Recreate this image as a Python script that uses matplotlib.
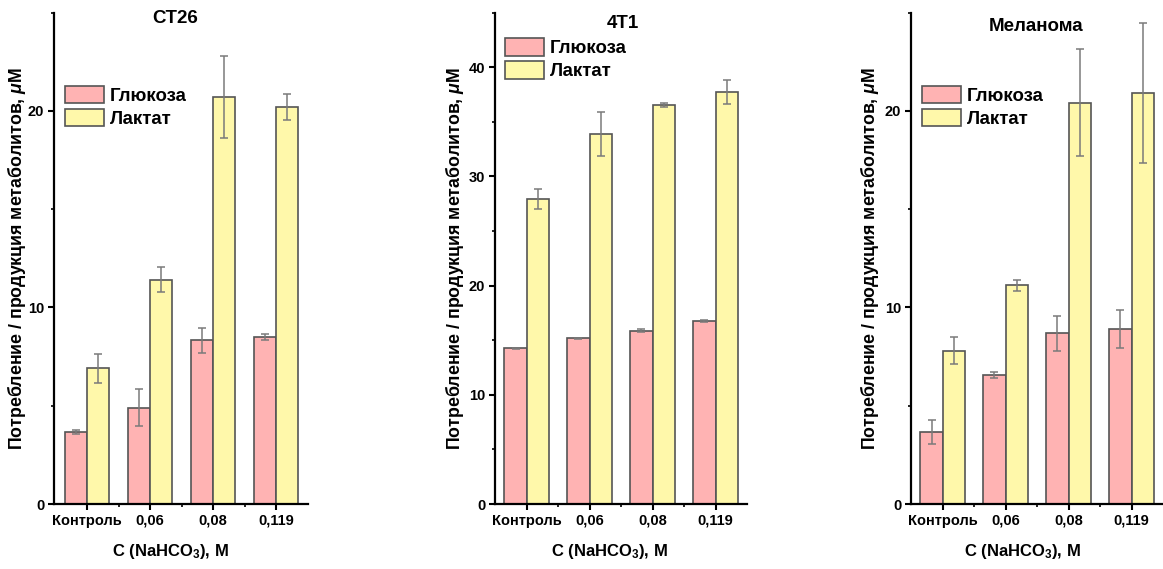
import matplotlib
matplotlib.use('Agg')
import matplotlib.pyplot as plt
import numpy as np
from matplotlib.ticker import MultipleLocator, FixedLocator

# ---- data ----
categories = ['Контроль', '0,06', '0,08', '0,119']
series_names = ['Глюкоза', 'Лактат']

titles = ['CT26', '4T1', 'Меланома']

ct26_glucose = [3.65, 4.9, 8.33, 8.5]
ct26_glucose_err = [0.1, 0.95, 0.65, 0.15]
ct26_lactate = [6.9, 11.42, 20.7, 20.2]
ct26_lactate_err = [0.75, 0.65, 2.1, 0.65]

t41_glucose = [14.25, 15.18, 15.88, 16.73]
t41_glucose_err = [0.05, 0.03, 0.15, 0.1]
t41_lactate = [27.93, 33.9, 36.55, 37.7]
t41_lactate_err = [0.95, 2.0, 0.15, 1.1]

mel_glucose = [3.66, 6.57, 8.69, 8.91]
mel_glucose_err = [0.6, 0.15, 0.9, 0.95]
mel_lactate = [7.8, 11.12, 20.43, 20.92]
mel_lactate_err = [0.7, 0.3, 2.7, 3.55]

y_max = [25, 45, 25]
y_major = [10, 10, 10]

# ---- style ----
plt.rcParams['font.family'] = ['Liberation Sans', 'DejaVu Sans']
plt.rcParams['font.weight'] = 'bold'
plt.rcParams['mathtext.fontset'] = 'custom'
plt.rcParams['mathtext.rm'] = 'Liberation Sans:bold'
plt.rcParams['mathtext.it'] = 'Liberation Sans:italic'
plt.rcParams['mathtext.bf'] = 'Liberation Sans:bold'
plt.rcParams['mathtext.default'] = 'rm'

pink = '#FFB3B3'
yellow = '#FFF8AA'
edge = '#555555'
err_color = '#7a7a7a'

fig = plt.figure(figsize=(11.63, 5.69), dpi=100)

W, H = 1163.0, 569.0
y0_px, top_px = 504.0, 12.7
axes_px = [(54, 254), (495, 252), (911, 252)]
xlims = [(0.476, 4.508), (0.496, 4.5), (0.496, 4.5)]
title_pos = [(0.476, 0.989), (0.508, 0.978), (0.496, 0.972)]
legend_pos = [(0.043, 0.851), (0.04, 0.948), (0.043, 0.851)]
ylabel_x = [-0.104, -0.115, -0.119]
xlabel_x = [0.457, 0.456, 0.444]

data = [
    (ct26_glucose, ct26_glucose_err, ct26_lactate, ct26_lactate_err),
    (t41_glucose, t41_glucose_err, t41_lactate, t41_lactate_err),
    (mel_glucose, mel_glucose_err, mel_lactate, mel_lactate_err),
]

x = np.arange(1, len(categories) + 1)
bw = 0.355
leg_fs = 13.4

for i in range(3):
    left_px, width_px = axes_px[i]
    ax = fig.add_axes([left_px / W, (H - y0_px) / H, width_px / W, (y0_px - top_px) / H])
    g, ge, l, le = data[i]
    b1 = ax.bar(x - bw / 2, g, bw, color=pink, edgecolor=edge, linewidth=1.2,
                label=series_names[0], zorder=2)
    b2 = ax.bar(x + bw / 2, l, bw, color=yellow, edgecolor=edge, linewidth=1.2,
                label=series_names[1], zorder=2)
    ax.errorbar(x - bw / 2, g, yerr=ge, fmt='none', ecolor=err_color, elinewidth=1.1,
                capsize=2.8, capthick=1.1, zorder=3)
    ax.errorbar(x + bw / 2, l, yerr=le, fmt='none', ecolor=err_color, elinewidth=1.1,
                capsize=2.8, capthick=1.1, zorder=3)

    ax.set_xlim(*xlims[i])
    ax.set_ylim(0, y_max[i])
    ax.set_xticks(x)
    ax.set_xticklabels(categories, fontsize=10.5, fontweight='bold')
    ax.xaxis.set_minor_locator(FixedLocator(x[:-1] + 0.5))
    ax.yaxis.set_major_locator(MultipleLocator(y_major[i]))
    ax.yaxis.set_minor_locator(MultipleLocator(y_major[i] / 2))
    for lab in ax.get_yticklabels():
        lab.set_fontsize(10.5)
        lab.set_fontweight('bold')
    ax.tick_params(axis='both', which='major', direction='out', length=4, width=1.5,
                   labelsize=10.5, pad=3)
    ax.tick_params(axis='both', which='minor', direction='out', length=2.5, width=1.2)
    for s in ['top', 'right']:
        ax.spines[s].set_visible(False)
    for s in ['left', 'bottom']:
        ax.spines[s].set_linewidth(1.6)

    ax.set_ylabel('Потребление / продукция метаболитов, $\\mathit{\\mu}$M',
                  fontsize=12.8, fontweight='bold')
    ax.yaxis.set_label_coords(ylabel_x[i], 0.5)
    ax.set_xlabel('C (NaHCO$_3$), M', fontsize=12, fontweight='bold')
    ax.xaxis.set_label_coords(xlabel_x[i], -0.078)

    ax.text(title_pos[i][0], title_pos[i][1], titles[i], transform=ax.transAxes,
            ha='center', va='center', fontsize=13.5, fontweight='bold')

    ax.legend(handles=[b1, b2], loc='upper left', bbox_to_anchor=legend_pos[i],
              frameon=False, prop={'size': leg_fs, 'weight': 'bold'},
              handlelength=39 / (leg_fs * 100 / 72), handleheight=20 / (leg_fs * 100 / 72),
              labelspacing=0.2, handletextpad=0.32, borderpad=0, borderaxespad=0)

fig.savefig('out.png', dpi=100)
